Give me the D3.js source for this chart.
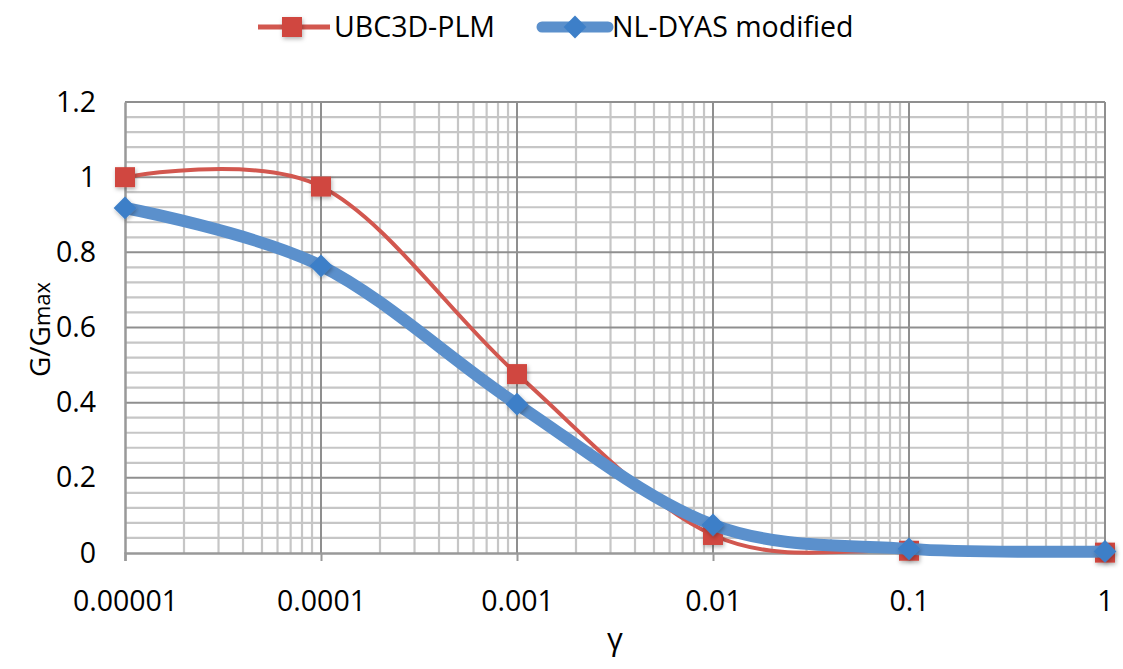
<!DOCTYPE html>
<html>
<head>
<meta charset="utf-8">
<script src="https://cdn.jsdelivr.net/npm/d3@7"></script>
<style>
  html, body { margin: 0; padding: 0; background: #fff; }
  svg { display: block; font-family: "Open Sans", "Noto Sans", sans-serif; }
</style>
</head>
<body>
<svg id="chart" width="1123" height="669"></svg>
<script>
// ---- data ----
const strains = [0.00001, 0.0001, 0.001, 0.01, 0.1, 1];
const xTickLabels = ["0.00001", "0.0001", "0.001", "0.01", "0.1", "1"];
const yTicks = [0, 0.2, 0.4, 0.6, 0.8, 1, 1.2];
const yTickLabels = ["0", "0.2", "0.4", "0.6", "0.8", "1", "1.2"];
const seriesNames = ["UBC3D-PLM", "NL-DYAS modified"];
const ubcValues = [1.0, 0.975, 0.476, 0.048, 0.006, 0.001];
const nlValues = [0.918, 0.764, 0.396, 0.075, 0.011, 0.004];

// ---- layout ----
const svg = d3.select("#chart");
const pL = 125, pR = 1105, pT = 102, pB = 553;
const x = d3.scaleLog().domain([0.00001, 1]).range([pL, pR]);
const y = d3.scaleLinear().domain([0, 1.2]).range([pB, pT]);
const FS = 28.5;

const defs = svg.append("defs");
const f = defs.append("filter").attr("id", "glow").attr("x", "-50%").attr("y", "-50%").attr("width", "200%").attr("height", "200%");
f.append("feDropShadow").attr("dx", 1).attr("dy", 2).attr("stdDeviation", 2).attr("flood-color", "#000").attr("flood-opacity", 0.3);

// minor grid (vertical log minors)
const minorX = [];
for (let e = -5; e < 0; e++) for (let m = 2; m <= 9; m++) minorX.push(m * Math.pow(10, e));
const minorY = d3.range(0, 1.2001, 0.04).filter(v => Math.abs(v / 0.2 - Math.round(v / 0.2)) > 1e-6);

const grid = svg.append("g");
grid.selectAll(".mx").data(minorX).join("line")
  .attr("x1", d => x(d)).attr("x2", d => x(d)).attr("y1", pT).attr("y2", pB)
  .attr("stroke", "#c6c6c6").attr("stroke-width", 2.2);
grid.selectAll(".my").data(minorY).join("line")
  .attr("x1", pL).attr("x2", pR).attr("y1", d => y(d)).attr("y2", d => y(d))
  .attr("stroke", "#c6c6c6").attr("stroke-width", 2.2);
// major grid
const gMaj = svg.append("g");
gMaj.selectAll("line.vx").data(strains.slice(1)).join("line")
  .attr("x1", d => x(d)).attr("x2", d => x(d)).attr("y1", pT).attr("y2", pB)
  .attr("stroke", "#8f8f8f").attr("stroke-width", 2);
const gMajY = svg.append("g");
gMajY.selectAll("line").data(yTicks.slice(1)).join("line")
  .attr("x1", pL).attr("x2", pR).attr("y1", d => y(d)).attr("y2", d => y(d))
  .attr("stroke", "#8f8f8f").attr("stroke-width", 2);

// axes
const xAxis = d3.axisBottom(x).tickValues(strains).tickFormat((d, i) => xTickLabels[i]).tickSize(8).tickPadding(30);
const gx = svg.append("g").attr("transform", `translate(0,${pB})`).call(xAxis);
gx.select(".domain").attr("stroke", "#999").attr("stroke-width", 2.5);
gx.selectAll(".tick line").attr("stroke", "#999").attr("stroke-width", 2);
gx.selectAll(".tick text").attr("font-size", FS).attr("fill", "#000").attr("font-family", "Open Sans");

const yAxis = d3.axisLeft(y).tickValues(yTicks).tickFormat((d, i) => yTickLabels[i]).tickSize(0).tickPadding(29);
const gy = svg.append("g").attr("transform", `translate(${pL},0)`).call(yAxis);
gy.select(".domain").attr("stroke", "#999").attr("stroke-width", 2.5);
gy.selectAll(".tick text").attr("font-size", FS).attr("fill", "#000").attr("font-family", "Open Sans");

// lines
const line = d3.line().x((d, i) => x(strains[i])).y(d => y(d)).curve(d3.curveCatmullRom.alpha(0));
const redLine = "#d2574f", redMark = "#d0473f";
const blueLine = "#5b90cc", blueMark = "#3d7fc8";

svg.append("path").attr("d", line(ubcValues)).attr("fill", "none").attr("stroke", redLine).attr("stroke-width", 4);
svg.append("g").selectAll("rect").data(ubcValues).join("rect")
  .attr("x", (d, i) => x(strains[i]) - 10).attr("y", d => y(d) - 10)
  .attr("width", 20).attr("height", 20).attr("fill", redMark).attr("filter", "url(#glow)");

svg.append("path").attr("d", line(nlValues)).attr("fill", "none").attr("stroke", blueLine).attr("stroke-width", 12);
const dia = d3.symbol().type(d3.symbolDiamond2).size(330);
svg.append("g").selectAll("path").data(nlValues).join("path")
  .attr("d", dia)
  .attr("transform", (d, i) => `translate(${x(strains[i])},${y(d)})`)
  .attr("fill", blueMark).attr("filter", "url(#glow)");

// axis titles
svg.append("text").attr("x", (pL + pR) / 2).attr("y", 650).attr("text-anchor", "middle")
  .attr("font-size", 31).attr("fill", "#000").text("γ");
const yt = svg.append("text").attr("transform", `translate(50,${(pT + pB) / 2 + 2}) rotate(-90)`)
  .attr("text-anchor", "middle").attr("font-size", 28).attr("fill", "#000");
yt.append("tspan").text("G/G");
yt.append("tspan").attr("font-size", 22).text("max");

// legend
const lg = svg.append("g");
lg.append("line").attr("x1", 258).attr("x2", 330).attr("y1", 27).attr("y2", 27).attr("stroke", redLine).attr("stroke-width", 5);
lg.append("rect").attr("x", 282).attr("y", 17).attr("width", 20).attr("height", 20).attr("fill", redMark).attr("filter", "url(#glow)");
lg.append("text").attr("x", 334).attr("y", 37).attr("font-size", FS).attr("fill", "#000").text(seriesNames[0]);
lg.append("line").attr("x1", 542).attr("x2", 608).attr("y1", 27).attr("y2", 27).attr("stroke", blueLine).attr("stroke-width", 11).attr("stroke-linecap", "round");
lg.append("path").attr("d", dia).attr("transform", "translate(575,27)").attr("fill", blueMark);
lg.append("text").attr("x", 612).attr("y", 37).attr("font-size", FS).attr("fill", "#000").text(seriesNames[1]);
</script>
</body>
</html>
